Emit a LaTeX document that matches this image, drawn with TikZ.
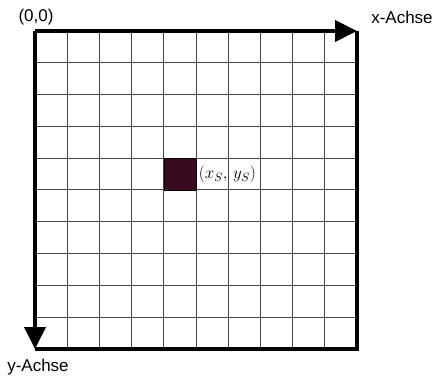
\documentclass[tikz,border=0pt]{standalone}
\usepackage{fix-cm}
\usepackage{fontspec}
\setmainfont{Liberation Sans}
\usetikzlibrary{arrows.meta, positioning}
\definecolor{pixelred}{RGB}{58, 10, 30}
\definecolor{gridgray}{RGB}{70, 70, 70}

\begin{document}
\begin{tikzpicture}[
    x=1pt, y=-1pt,
    axisarrow/.style={-{Triangle[length=22pt, width=21pt]}, line width=4pt},
    borderline/.style={line width=3.5pt},
    gridline/.style={gridgray, line width=1pt},
    pixelcell/.style={rectangle, draw=black, fill=pixelred, line width=1.2pt, anchor=north west, inner sep=0pt, minimum width=32.2pt, minimum height=31.9pt},
    axislabel/.style={font=\fontsize{17}{19}\selectfont, inner sep=0pt}
]
    \useasboundingbox (0,0) rectangle (437,377);

    % Corners of the image
    \coordinate (O) at (35,31);
    \coordinate (X) at (357,31);
    \coordinate (Y) at (35,349);
    \coordinate (C) at (357,349);

    % Pixel grid
    \foreach \i in {1,...,9} {
        \draw[gridline] ({35+\i*32.2},31) -- ({35+\i*32.2},349);
        \draw[gridline] (35,{31+\i*31.8}) -- (357,{31+\i*31.8});
    }

    % Marked pixel
    \node[pixelcell] (S) at ({35+4*32.2},{31+4*31.8}) {};
    \node[right=1.5pt of S, inner sep=0pt, font=\fontsize{17}{19}\selectfont] (Slabel) {$(x_S,\,y_S)$};

    % Border and axes
    \draw[borderline] (X) -- (C) -- (Y);
    \draw[axisarrow] (O) -- (X);
    \draw[axisarrow] (O) -- (Y);

    % Labels
    \node[axislabel] (olabel) at (36,17) {(0,0)};
    \node[axislabel] (xlabel) at (402,17) {x-Achse};
    \node[axislabel] (ylabel) at (38,367) {y-Achse};
\end{tikzpicture}
\end{document}
